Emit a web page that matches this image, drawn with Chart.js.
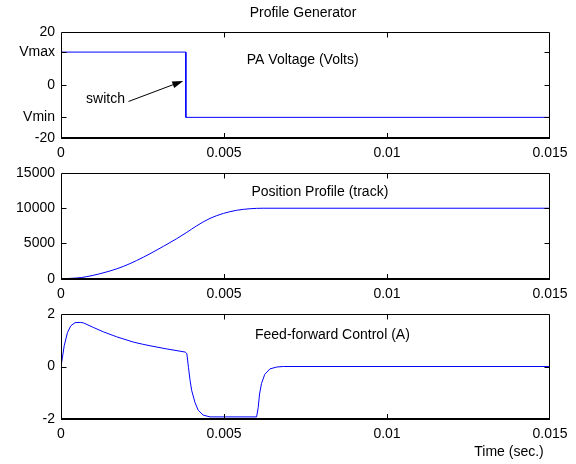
<!DOCTYPE html>
<html>
<head>
<meta charset="utf-8">
<script src="https://cdn.jsdelivr.net/npm/chart.js@4/dist/chart.umd.min.js"></script>
<style>
  html, body { margin: 0; padding: 0; background: #fff; }
  #wrap { position: relative; width: 576px; height: 464px; overflow: hidden; background: #fff; }
  .panel { position: absolute; left: 0; width: 576px; }
  canvas { display: block; }
</style>
</head>
<body>
<div id="wrap">
  <div class="panel" style="top:0;height:166px"><canvas id="cVolt" width="576" height="166"></canvas></div>
  <div class="panel" style="top:141px;height:166px"><canvas id="cPos" width="576" height="166"></canvas></div>
  <div class="panel" style="top:282px;height:182px"><canvas id="cFF" width="576" height="182"></canvas></div>
</div>
<script>
// ---- time axis ----
const timeTicks = [0, 0.005, 0.01, 0.015];
const timeTickLabels = ['0', '0.005', '0.01', '0.015'];

// ---- PA voltage (switches from Vmax to Vmin) ----
const V_MAX = 12.4;
const V_MIN = -12.3;
const SWITCH_TIME = 0.00383;
const voltTime = [0, SWITCH_TIME, SWITCH_TIME, 0.015];
const voltValues = [V_MAX, V_MAX, V_MIN, V_MIN];
const voltTicks = [-20, V_MIN, 0, V_MAX, 20];
const voltTickLabels = ['-20', 'Vmin', '0', 'Vmax', '20'];

// ---- position profile (track) ----
const posTime = [0, 0.00048, 0.00079, 0.00119, 0.0015, 0.00191, 0.00232, 0.00273, 0.00314,
                 0.00355, 0.00386, 0.00416, 0.00457, 0.00498, 0.00538, 0.0058, 0.0062, 0.015];
const posValues = [0, 95, 290, 700, 1090, 1740, 2580, 3540, 4590,
                   5680, 6580, 7500, 8560, 9260, 9700, 9930, 10000, 10000];
const posTicks = [0, 5000, 10000, 15000];

// ---- feed-forward control current (A) ----
const ffTime = [0, 0.0001, 0.0002, 0.0003, 0.00043, 0.00059, 0.00069, 0.00099, 0.0013, 0.00171,
                0.00222, 0.0025, 0.00273, 0.00324, 0.00381, 0.00386, 0.00391, 0.00396, 0.00401,
                0.00411, 0.00421, 0.00436, 0.00457, 0.006, 0.00605, 0.00609, 0.00615, 0.00625,
                0.00641, 0.00662, 0.00682, 0.015];
const ffValues = [0, 0.8, 1.3, 1.55, 1.67, 1.68, 1.66, 1.49, 1.32, 1.13,
                  0.93, 0.85, 0.79, 0.67, 0.55, 0.49, -0.03, -0.54, -0.92,
                  -1.37, -1.67, -1.85, -1.92, -1.92, -1.56, -1.05, -0.65, -0.3,
                  -0.09, -0.02, 0, 0];
const ffTicks = [-2, 0, 2];

const FONT = '"Liberation Sans", Arial, Helvetica, sans-serif';
Chart.defaults.font.family = FONT;
Chart.defaults.font.size = 14;
Chart.defaults.color = '#000';

const toPoints = (xs, ys) => xs.map((x, i) => ({ x, y: ys[i] }));

// Box frame with inward tick marks, in-axes text and arrow
const framePlugin = {
  id: 'frame',
  afterDatasetsDraw(chart, args, opts) {
    const { ctx, chartArea: a, scales } = chart;
    const xs = scales.x, ys = scales.y;
    const L = Math.floor(a.left) + 0.5;
    const R = Math.round(a.right) - 0.5;
    const T = Math.floor(a.top) + 0.5;
    const B = Math.round(a.bottom);
    ctx.save();
    ctx.strokeStyle = '#000';
    ctx.lineWidth = 1;
    ctx.beginPath();
    ctx.moveTo(L, B); ctx.lineTo(L, T); ctx.lineTo(R, T); ctx.lineTo(R, B);
    ctx.stroke();
    ctx.lineWidth = 2;
    ctx.beginPath();
    ctx.moveTo(L - 0.5, B); ctx.lineTo(R + 0.5, B);
    ctx.stroke();
    ctx.lineWidth = 1;
    const tl = 5;
    ctx.beginPath();
    xs.ticks.forEach(t => {
      const px = Math.round(xs.getPixelForValue(t.value)) + 0.5;
      if (px <= L + 1 || px >= R - 1) return;
      ctx.moveTo(px, B); ctx.lineTo(px, B - tl);
      ctx.moveTo(px, T); ctx.lineTo(px, T + tl);
    });
    ys.ticks.forEach(t => {
      const py = Math.round(ys.getPixelForValue(t.value)) + 0.5;
      if (py <= T + 1 || py >= B - 1) return;
      ctx.moveTo(L, py); ctx.lineTo(L + tl, py);
      ctx.moveTo(R, py); ctx.lineTo(R - tl, py);
    });
    ctx.stroke();

    ctx.fillStyle = '#000';
    ctx.font = '14px ' + FONT;
    ctx.textBaseline = 'middle';
    (opts.texts || []).forEach(t => {
      ctx.textAlign = t.align || 'left';
      ctx.fillText(t.text, xs.getPixelForValue(t.x), ys.getPixelForValue(t.y));
    });
    (opts.labels || []).forEach(t => {
      ctx.textAlign = t.align || 'center';
      ctx.fillText(t.text, t.px, t.py);
    });
    if (opts.arrow) {
      const ar = opts.arrow;
      const x0 = xs.getPixelForValue(ar.x0), y0 = ys.getPixelForValue(ar.y0);
      const x1 = xs.getPixelForValue(ar.x1), y1 = ys.getPixelForValue(ar.y1);
      const ang = Math.atan2(y1 - y0, x1 - x0);
      const hl = 11, hw = 3.5;
      const bx = x1 - hl * Math.cos(ang), by = y1 - hl * Math.sin(ang);
      ctx.beginPath();
      ctx.moveTo(x0, y0); ctx.lineTo(bx, by);
      ctx.stroke();
      ctx.beginPath();
      ctx.moveTo(x1, y1);
      ctx.lineTo(bx + hw * Math.sin(ang), by - hw * Math.cos(ang));
      ctx.lineTo(bx - hw * Math.sin(ang), by + hw * Math.cos(ang));
      ctx.closePath();
      ctx.fill();
    }
    ctx.restore();
  }
};

function makeChart(id, cfg) {
  const setTicks = (vals) => (scale) => { scale.ticks = vals.map(v => ({ value: v })); };
  return new Chart(document.getElementById(id), {
    type: 'line',
    data: {
      datasets: [{
        data: toPoints(cfg.xs, cfg.ys),
        borderColor: '#0000ff',
        borderWidth: 1,
        pointRadius: 0,
        fill: false,
        tension: 0,
        cubicInterpolationMode: cfg.smooth ? 'monotone' : 'default'
      }]
    },
    options: {
      responsive: false,
      animation: false,
      events: [],
      layout: { padding: { top: 32, left: 0, right: 26, bottom: 0 } },
      plugins: {
        legend: { display: false },
        tooltip: { enabled: false },
        title: { display: false },
        frame: cfg.frame
      },
      scales: {
        x: {
          type: 'linear',
          min: 0, max: 0.015,
          grid: { display: false, drawTicks: false, tickLength: 0 },
          border: { display: false },
          afterBuildTicks: setTicks(timeTicks),
          afterFit: (s) => { s.height = cfg.xHeight; },
          ticks: {
            autoSkip: false, maxRotation: 0, padding: 7,
            callback: (v) => timeTickLabels[timeTicks.indexOf(v)]
          }
        },
        y: {
          type: 'linear',
          min: cfg.yMin, max: cfg.yMax,
          grid: { display: false, drawTicks: false, tickLength: 0 },
          border: { display: false },
          afterBuildTicks: setTicks(cfg.yTicks),
          afterFit: (s) => { s.width = 61; },
          ticks: {
            autoSkip: false, padding: 6,
            callback: (v) => cfg.yLabels ? cfg.yLabels[cfg.yTicks.indexOf(v)] : String(v)
          }
        }
      }
    },
    plugins: [framePlugin]
  });
}

makeChart('cVolt', {
  xs: voltTime, ys: voltValues, yMin: -20, yMax: 20,
  yTicks: voltTicks, yLabels: voltTickLabels, xHeight: 28.3,
  frame: {
    texts: [
      { x: 0.0057, y: 9.5, text: 'PA Voltage (Volts)' },
      { x: 0.00077, y: -5.4, text: 'switch' }
    ],
    labels: [{ px: 303, py: 13, text: 'Profile Generator' }],
    arrow: { x0: 0.00207, y0: -6.3, x1: 0.00375, y1: 1.5 }
  }
});

makeChart('cPos', {
  xs: posTime, ys: posValues, yMin: 0, yMax: 15000,
  yTicks: posTicks, xHeight: 28.3, smooth: true,
  frame: {
    texts: [{ x: 0.00584, y: 12240, text: 'Position Profile (track)' }]
  }
});

makeChart('cFF', {
  xs: ffTime, ys: ffValues, yMin: -2, yMax: 2,
  yTicks: ffTicks, xHeight: 45,
  frame: {
    texts: [{ x: 0.00595, y: 1.2, text: 'Feed-forward Control (A)' }],
    labels: [{ px: 509, py: 170, text: 'Time (sec.)' }]
  }
});
</script>
</body>
</html>
